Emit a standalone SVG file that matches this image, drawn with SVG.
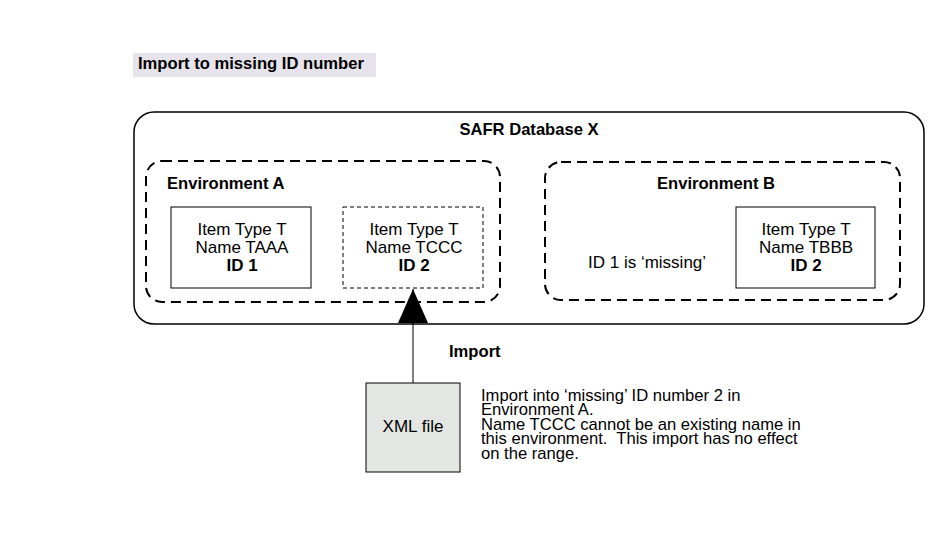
<svg xmlns="http://www.w3.org/2000/svg" width="935" height="557" viewBox="0 0 935 557">
<style>
text{font-family:"Liberation Sans",Arial,sans-serif;font-size:16.6px;fill:#000}
.b{font-weight:bold}
.c{text-anchor:middle}
.it{font-size:17px}
.env{fill:none;stroke:#000;stroke-width:2;stroke-dasharray:10 6}
.item{fill:#fff;stroke:#000;stroke-width:1}
.dash{stroke-dasharray:4 3}
</style>
<defs>
<marker id="ah" markerWidth="34" markerHeight="30" refX="34" refY="15" orient="auto" markerUnits="userSpaceOnUse" viewBox="0 0 34 30">
<path d="M0 0 L34 15 L0 30 Z" fill="#000"/>
</marker>
</defs>
<rect width="935" height="557" fill="#fff"/>
<g id="title">
<rect x="133" y="53" width="243" height="24" fill="#e6e3ea"/>
<text x="138" y="69" class="b">Import to missing ID number</text>
</g>
<g id="database">
<rect x="134" y="112" width="790" height="212" rx="20" fill="#fff" stroke="#000" stroke-width="1.5"/>
<text x="529" y="135" class="b c">SAFR Database X</text>
</g>
<g id="envA">
<rect x="146" y="161" width="354" height="141" rx="16" class="env"/>
<text x="167" y="189" class="b">Environment A</text>
</g>
<g id="itemA1">
<rect x="171" y="207" width="140" height="81" class="item"/>
<text x="242" y="235" class="c it">Item Type T</text>
<text x="242" y="253" class="c it">Name TAAA</text>
<text x="242" y="271" class="b c it">ID 1</text>
</g>
<g id="itemA2">
<rect x="343" y="207" width="140" height="81" class="item dash"/>
<text x="414" y="235" class="c it">Item Type T</text>
<text x="414" y="253" class="c it">Name TCCC</text>
<text x="414" y="271" class="b c it">ID 2</text>
</g>
<g id="envB">
<rect x="545" y="162" width="355" height="138" rx="16" class="env"/>
<text x="716" y="189" class="b c">Environment B</text>
<text x="588" y="268" class="it">ID 1 is ‘missing’</text>
</g>
<g id="itemB">
<rect x="736" y="207" width="139" height="81" class="item"/>
<text x="806" y="235" class="c it">Item Type T</text>
<text x="806" y="253" class="c it">Name TBBB</text>
<text x="806" y="271" class="b c it">ID 2</text>
</g>
<g id="xml">
<rect x="366" y="383" width="94" height="89" fill="#e3e6e3" stroke="#000" stroke-width="1"/>
<text x="413" y="432" class="c it">XML file</text>
</g>
<g id="connectors">
<line x1="413" y1="383" x2="413" y2="289" stroke="#000" stroke-width="1" marker-end="url(#ah)"/>
<text x="449" y="357" class="b">Import</text>
</g>
<g id="note">
<text x="481" y="401">Import into ‘missing’ ID number 2 in</text>
<text x="481" y="415">Environment A.</text>
<text x="481" y="430">Name TCCC cannot be an existing name in</text>
<text x="481" y="444" xml:space="preserve">this environment.  This import has no effect</text>
<text x="481" y="459">on the range.</text>
</g>
</svg>
